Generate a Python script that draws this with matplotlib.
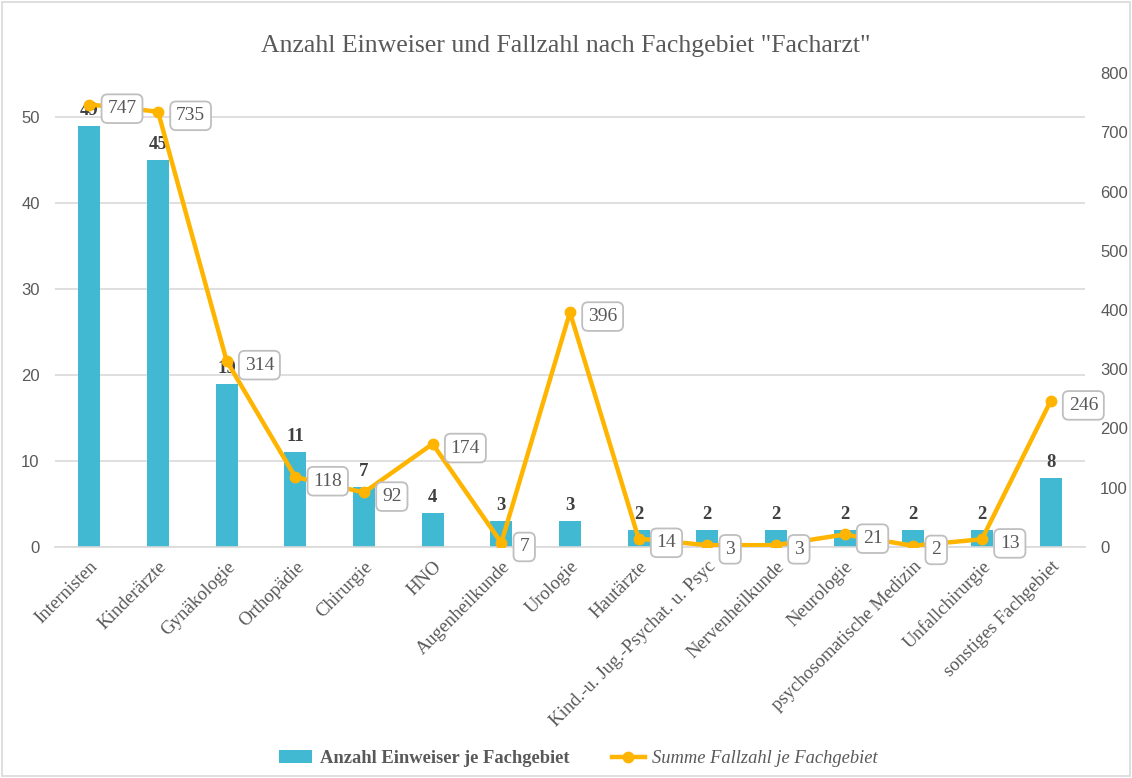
import numpy as np
import matplotlib.pyplot as plt
from matplotlib.patches import Rectangle

# data
categories = ["Internisten", "Kinderärzte", "Gynäkologie", "Orthopädie", "Chirurgie",
              "HNO", "Augenheilkunde", "Urologie", "Hautärzte",
              "Kind.-u. Jug.-Psychat. u. Psyc", "Nervenheilkunde", "Neurologie",
              "psychosomatische Medizin", "Unfallchirurgie", "sonstiges Fachgebiet"]
einweiser = [49, 45, 19, 11, 7, 4, 3, 3, 2, 2, 2, 2, 2, 2, 8]
fallzahl = [747, 735, 314, 118, 92, 174, 7, 396, 14, 3, 3, 21, 2, 13, 246]

bar_color = "#41B9D3"
line_color = "#FFB500"
grey = "#595959"
serif = "Liberation Serif"
sans = "Liberation Sans"

fig = plt.figure(figsize=(11.32, 7.78), dpi=100)
ax = fig.add_axes([0.0486, 0.297, 0.9098, 0.609])
ax2 = ax.twinx()

x = np.arange(len(categories))

# bars
ax.bar(x, einweiser, width=0.32, color=bar_color, zorder=2,
       label="Anzahl Einweiser je Fachgebiet")
for xi, v in zip(x, einweiser):
    ax.annotate(str(v), (xi, v), xytext=(0, 5), textcoords="offset points",
                ha="center", va="bottom", fontsize=13.5, fontweight="bold",
                family=serif, color="#404040", zorder=3)

ax.set_xlim(-0.5, len(categories) - 0.5)
ax.set_ylim(0, 55.1)
ax.set_yticks([0, 10, 20, 30, 40, 50])
ax.grid(axis="y", color="#D9D9D9", linewidth=1.2, zorder=0)
ax.set_axisbelow(True)

# line on secondary axis
ax2.plot(x, fallzahl, color=line_color, linewidth=3.2, marker="o", markersize=7.5,
         zorder=4, label="Summe Fallzahl je Fachgebiet")
for xi, v in zip(x, fallzahl):
    ax2.annotate(str(v), (xi, v), xytext=(13, -3), textcoords="offset points",
                 ha="left", va="center", fontsize=14, family=serif, color=grey,
                 bbox=dict(boxstyle="round,pad=0.3,rounding_size=0.3", fc="white",
                           ec="#BFBFBF", lw=1.3), zorder=5)
ax2.set_ylim(0, 800)
ax2.set_yticks(range(0, 801, 100))
ax2.patch.set_visible(False)

for a in (ax, ax2):
    for s in a.spines.values():
        s.set_visible(False)
    a.tick_params(length=0, labelsize=12, labelcolor=grey)
    for lab in a.get_yticklabels():
        lab.set_family(sans)
ax.spines["bottom"].set_visible(True)
ax.spines["bottom"].set_color("#D9D9D9")
ax.spines["bottom"].set_linewidth(1.2)

ax.set_xticks(x)
ax.set_xticklabels(categories, rotation=45, ha="right", rotation_mode="anchor",
                   family=serif, fontsize=13.5, color=grey)
ax.tick_params(axis="x", pad=8)
ax.tick_params(axis="y", pad=11)
ax2.tick_params(axis="y", pad=11)

fig.suptitle('Anzahl Einweiser und Fallzahl nach Fachgebiet "Facharzt"',
             y=0.955, fontsize=18.5, family=serif, color=grey)

# legend
h1, l1 = ax.get_legend_handles_labels()
h2, l2 = ax2.get_legend_handles_labels()
leg = fig.legend(h1 + h2, l1 + l2, loc="center", bbox_to_anchor=(0.511, 0.025),
                 ncol=2, frameon=False, columnspacing=2.3, handlelength=1.8,
                 handletextpad=0.4, prop={"family": serif, "size": 13.3})
for t in leg.get_texts():
    t.set_color(grey)
leg.get_texts()[0].set_fontweight("bold")
leg.get_texts()[1].set_fontstyle("italic")

# light border around the whole figure
fig.patches.append(Rectangle((0.002, 0.002), 0.996, 0.996, transform=fig.transFigure,
                             fill=False, ec="#D9D9D9", lw=1.2))

fig.savefig("out.png", dpi=100)
